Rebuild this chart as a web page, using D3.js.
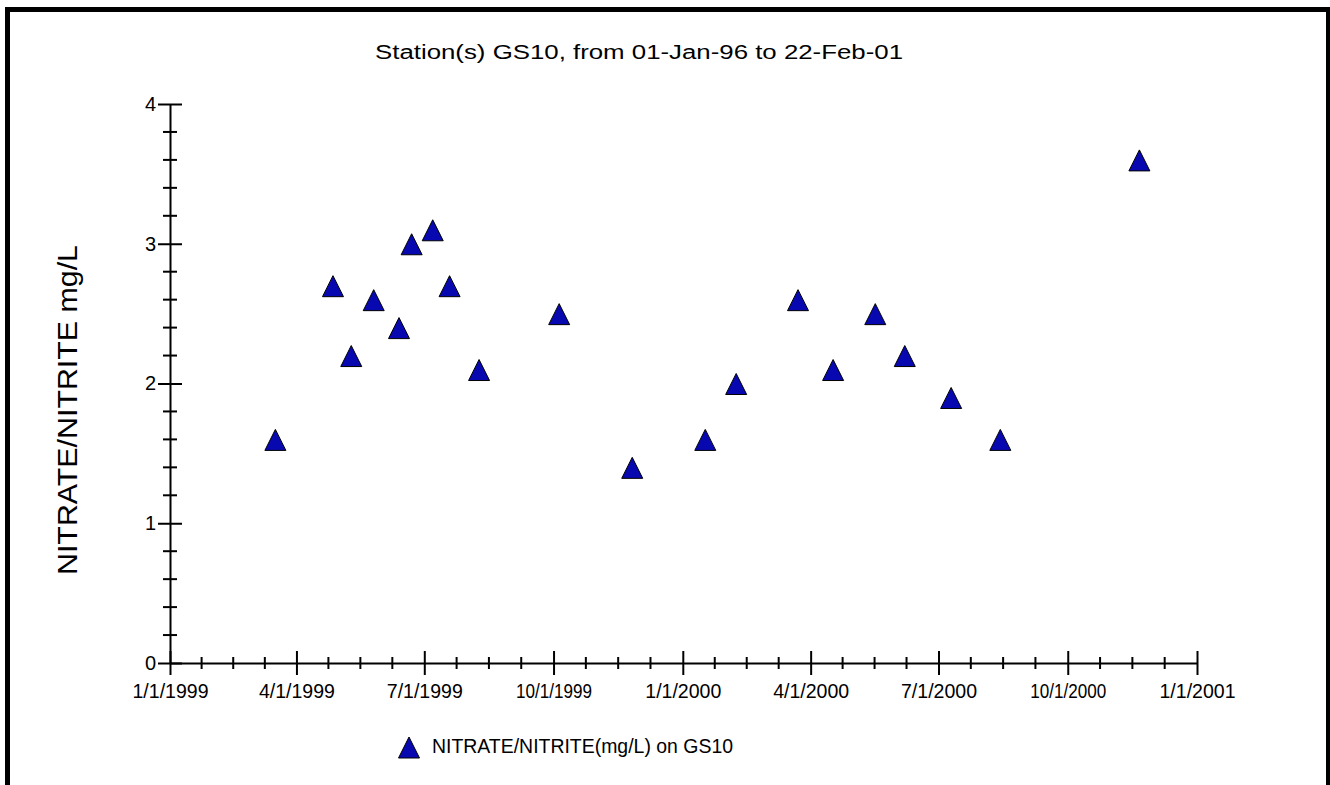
<!DOCTYPE html>
<html>
  <head>
    <meta charset="UTF-8">
    <title>NITRATE/NITRITE on GS10</title>
    <style>
      body { margin: 0; background: #fff; }
      svg text { font-family: "Liberation Sans", Arial, sans-serif; fill: #000; }
      .axis path, .axis line { stroke: #000; stroke-width: 2px; }
    </style>
  </head>
  <body>

    <svg class="chart"></svg>

    <script src="https://d3js.org/d3.v7.min.js"></script>
    <script>

/* DATA */

var sampleDates = ["1999-03-17", "1999-04-27", "1999-05-10", "1999-05-26", "1999-06-13",
                   "1999-06-22", "1999-07-07", "1999-07-19", "1999-08-09", "1999-10-05",
                   "1999-11-26", "2000-01-17", "2000-02-08", "2000-03-23", "2000-04-17",
                   "2000-05-17", "2000-06-07", "2000-07-10", "2000-08-14", "2000-11-21"];
var nitrateValues = [1.6, 2.7, 2.2, 2.6, 2.4,
                     3.0, 3.1, 2.7, 2.1, 2.5,
                     1.4, 1.6, 2.0, 2.6, 2.1,
                     2.5, 2.2, 1.9, 1.6, 3.6];

var xTickDates = ["1999-01-01", "1999-04-01", "1999-07-01", "1999-10-01", "2000-01-01",
                  "2000-04-01", "2000-07-01", "2000-10-01", "2001-01-01"];
var yTicks = [0, 1, 2, 3, 4];

var titleText = "Station(s) GS10, from 01-Jan-96 to 22-Feb-01";
var yLabel = "NITRATE/NITRITE mg/L";
var legendLabel = "NITRATE/NITRITE(mg/L) on GS10";

/* SETUP */

var width = 1330, height = 785;
var margin = {left: 170, right: 133, top: 104, bottom: 122};

var parse = d3.timeParse("%Y-%m-%d");
var fmt = d3.timeFormat("%-m/%-d/%Y");

var points = sampleDates.map(function(d, i) {
  return {date: parse(d), value: nitrateValues[i]};
});
var majors = xTickDates.map(parse);

var svg = d3.select("svg")
  .attr("width", width)
  .attr("height", height);

// frame
svg.append("rect")
  .attr("x", 7.5).attr("y", 9.5)
  .attr("width", 1321).attr("height", 800)
  .attr("fill", "none")
  .attr("stroke", "#000")
  .attr("stroke-width", 5);

var x = d3.scaleTime()
  .domain([majors[0], majors[majors.length - 1]])
  .range([margin.left, width - margin.right]);

var y = d3.scaleLinear()
  .domain([0, 4])
  .range([height - margin.bottom, margin.top]);

// minor x ticks: each quarter split in four
var xMinor = [];
for (var i = 0; i < majors.length - 1; i++) {
  var a = +majors[i], b = +majors[i + 1];
  for (var k = 1; k < 4; k++) xMinor.push(new Date(a + (b - a) * k / 4));
}

var yMinor = d3.range(0, 4.001, 0.2).filter(function(v) {
  return Math.abs(v - Math.round(v)) > 0.01;
});

/* AXES */

var gx = svg.append("g")
  .attr("class", "axis")
  .attr("transform", "translate(0," + y(0) + ")")
  .call(d3.axisBottom(x).tickValues(majors).tickFormat(fmt).tickSize(12).tickSizeOuter(0).tickPadding(9));
gx.selectAll(".tick line").attr("y1", -12);
gx.selectAll(".tick text")
  .attr("font-size", 20)
  .attr("font-family", "Liberation Sans, Arial, sans-serif")
  .attr("textLength", 76)
  .attr("lengthAdjust", "spacingAndGlyphs");

gx.selectAll(".minor")
  .data(xMinor)
  .enter().append("line")
    .attr("class", "minor")
    .attr("x1", function(d) { return x(d); })
    .attr("x2", function(d) { return x(d); })
    .attr("y1", -6)
    .attr("y2", 6);

var gy = svg.append("g")
  .attr("class", "axis")
  .attr("transform", "translate(" + margin.left + ",0)")
  .call(d3.axisLeft(y).tickValues(yTicks).tickFormat(d3.format("d")).tickSize(12).tickSizeOuter(0).tickPadding(2));
gy.selectAll(".tick line").attr("x1", 12);
gy.selectAll(".tick text")
  .attr("font-size", 20)
  .attr("font-family", "Liberation Sans, Arial, sans-serif");

gy.selectAll(".minor")
  .data(yMinor)
  .enter().append("line")
    .attr("class", "minor")
    .attr("x1", -7)
    .attr("x2", 7)
    .attr("y1", function(d) { return y(d); })
    .attr("y2", function(d) { return y(d); });

/* TEXT */

svg.append("text")
  .attr("x", 639)
  .attr("y", 59)
  .attr("text-anchor", "middle")
  .attr("font-size", 20)
  .attr("textLength", 528)
  .attr("lengthAdjust", "spacingAndGlyphs")
  .text(titleText);

svg.append("text")
  .attr("transform", "translate(77,410) rotate(-90)")
  .attr("text-anchor", "middle")
  .attr("font-size", 28)
  .attr("textLength", 330)
  .attr("lengthAdjust", "spacingAndGlyphs")
  .text(yLabel);

/* POINTS */

function tri(cx, cy) {
  return "M" + cx + "," + (cy - 10) + "L" + (cx + 10.5) + "," + (cy + 11) +
         "L" + (cx - 10.5) + "," + (cy + 11) + "Z";
}

svg.append("g")
    .attr("class", "points")
  .selectAll("path")
  .data(points)
  .enter().append("path")
    .attr("d", function(d) { return tri(x(d.date), y(d.value)); })
    .attr("fill", "#0808b0")
    .attr("stroke", "#000")
    .attr("stroke-width", 1);

/* LEGEND */

var legend = svg.append("g").attr("class", "legend");
legend.append("path")
  .attr("d", tri(409, 747))
  .attr("fill", "#0808b0")
  .attr("stroke", "#000")
  .attr("stroke-width", 1);
legend.append("text")
  .attr("x", 432)
  .attr("y", 753)
  .attr("font-size", 21)
  .attr("textLength", 301)
  .attr("lengthAdjust", "spacingAndGlyphs")
  .text(legendLabel);

</script>
  </body>
</html>
